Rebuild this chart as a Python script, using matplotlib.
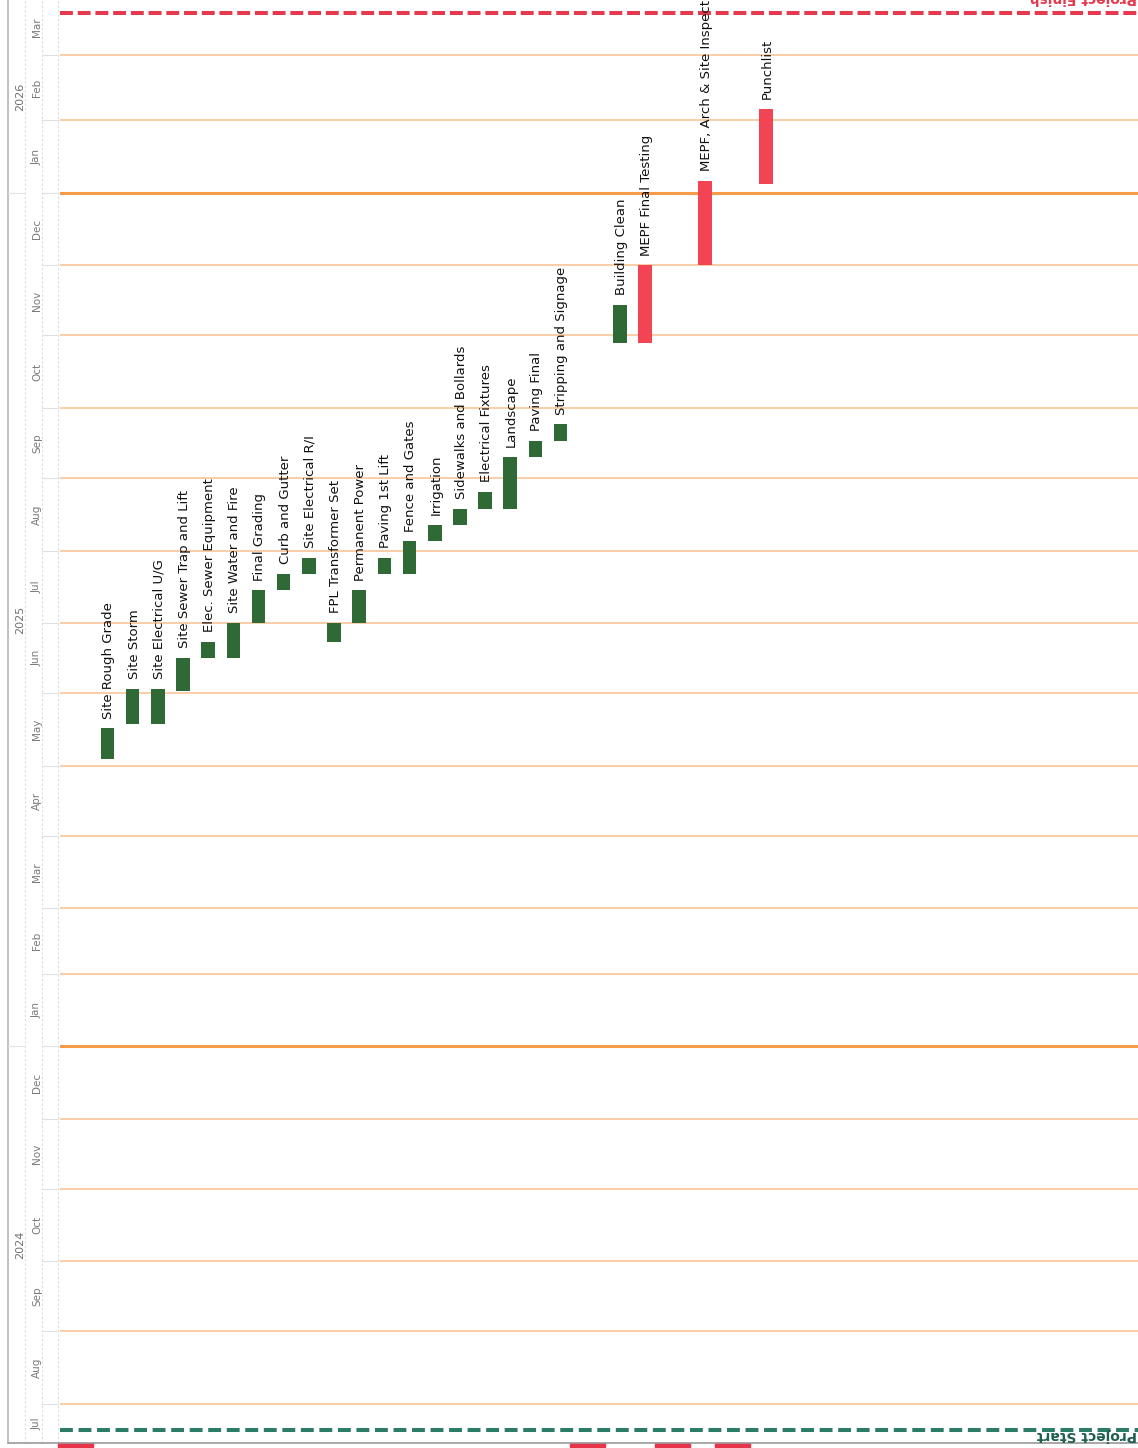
import datetime as dt
import matplotlib
matplotlib.use('Agg')
import matplotlib.pyplot as plt
import matplotlib.dates as mdates
from matplotlib.patches import Rectangle

# tasks (bottom = start, top = finish)
tasks = ['Site Rough Grade', 'Site Storm', 'Site Electrical U/G', 'Site Sewer Trap and Lift',
         'Elec. Sewer Equipment', 'Site Water and Fire', 'Final Grading', 'Curb and Gutter',
         'Site Electrical R/I', 'FPL Transformer Set', 'Permanent Power', 'Paving 1st Lift',
         'Fence and Gates', 'Irrigation', 'Sidewalks and Bollards', 'Electrical Fixtures',
         'Landscape', 'Paving Final', 'Stripping and Signage', 'Building Clean',
         'MEPF Final Testing', 'MEPF, Arch & Site Inspections', 'Punchlist']
starts = ['2025-05-04', '2025-05-19', '2025-05-19', '2025-06-02', '2025-06-16', '2025-06-16',
          '2025-07-01', '2025-07-15', '2025-07-22', '2025-06-23', '2025-07-01', '2025-07-22',
          '2025-07-22', '2025-08-05', '2025-08-12', '2025-08-19', '2025-08-19', '2025-09-10',
          '2025-09-17', '2025-10-29', '2025-10-29', '2025-12-01', '2026-01-05']
ends = ['2025-05-17', '2025-06-03', '2025-06-03', '2025-06-16', '2025-06-23', '2025-07-01',
        '2025-07-15', '2025-07-22', '2025-07-29', '2025-07-01', '2025-07-15', '2025-07-29',
        '2025-08-05', '2025-08-12', '2025-08-19', '2025-08-26', '2025-09-10', '2025-09-17',
        '2025-09-24', '2025-11-14', '2025-12-01', '2026-01-06', '2026-02-06']
status = ['site'] * 19 + ['site', 'close', 'close', 'close']
project_start = '2024-07-21'
project_finish = '2026-03-19'
year_labels = ['2024', '2025', '2026']

# column of each task on the sheet
lane = list(range(19)) + [20.36, 21.35, 23.74, 26.16]

GREEN = '#2f6a36'
RED = '#f24452'
colors = {'site': GREEN, 'close': RED}

W, H = 1138, 1448
fig = plt.figure(figsize=(W / 100, H / 100), dpi=100)
fig.patch.set_facecolor('white')


def d(s):
    return mdates.date2num(dt.datetime.strptime(s, '%Y-%m-%d'))


# pixel layout of the scanned sheet
left_px, bottom_px = 60, 5
ax = fig.add_axes([left_px / W, bottom_px / H, (W - left_px) / W, (H - bottom_px) / H])
ymin = d('2024-07-15') + 0.3
ymax = d('2026-03-24') + 0.5
ax.set_ylim(ymin, ymax)
lane_px = 25.17
x0 = 107.5
ax.set_xlim(-(x0 - left_px) / lane_px, (W - x0) / lane_px)
ax.axis('off')

# month grid
months = []
m = dt.datetime(2024, 7, 1)
while m <= dt.datetime(2026, 4, 1):
    months.append(m)
    m = dt.datetime(m.year + (m.month // 12), m.month % 12 + 1, 1)

for mo in months:
    y = mdates.date2num(mo)
    if y < ymin or y > ymax:
        continue
    if mo.month == 1:
        ax.axhline(y, color='#f59a48', lw=2.2, zorder=1)
    else:
        ax.axhline(y, color='#f9c597', lw=1.2, zorder=1)

# bars
for i, t in enumerate(tasks):
    s, e = d(starts[i]), d(ends[i])
    ax.bar(lane[i], e - s, bottom=s, width=0.54, color=colors[status[i]], zorder=3)
    ax.annotate(t, (lane[i], e), xytext=(1, 7), textcoords='offset points',
                rotation=90, ha='center', va='bottom', fontsize=9.5, color='#111111',
                annotation_clip=False, zorder=4)

# project start / finish
ax.axhline(d(project_start), color='#2b7d68', lw=2.9, linestyle=(0, (3.2, 1.4)), zorder=2)
ax.axhline(d(project_finish), color='#e5394f', lw=2.9, linestyle=(0, (3.2, 1.2)), zorder=2)
fig.text(0.999, bottom_px / H + 0.001, 'Project Start', rotation=180, ha='right', va='bottom',
         color='#1f5f4f', fontsize=10, fontweight='bold')
fig.text(0.999, 1 - 5 / H, 'Project Finish', rotation=180, ha='right', va='bottom',
         color='#e5394f', fontsize=10, fontweight='bold')

# timescale on the left
tax = fig.add_axes([0, bottom_px / H, left_px / W, (H - bottom_px) / H])
tax.set_ylim(ymin, ymax)
tax.set_xlim(0, left_px)
tax.axis('off')
tax.axvline(8, color='#b5b5b5', lw=1.2)
for xv in (25, 42, 58):
    tax.axvline(xv, color='#dcdcdc', lw=0.8, linestyle=(0, (2, 2)))
for k, mo in enumerate(months[:-1]):
    lo = max(mdates.date2num(mo), ymin)
    hi = min(mdates.date2num(months[k + 1]), ymax)
    if hi <= lo:
        continue
    tax.plot([42, 58], [lo, lo], color='#e0e0e0', lw=0.8)
    tax.text(37, (lo + hi) / 2, mo.strftime('%b'), rotation=90, ha='center', va='center',
             fontsize=7.5, color='#7a7a7a')
for yr in year_labels:
    lo = max(d(yr + '-01-01'), ymin)
    hi = min(d(str(int(yr) + 1) + '-01-01'), ymax)
    tax.text(20, (lo + hi) / 2, yr, rotation=90, ha='center', va='center',
             fontsize=8, color='#6f6f6f')
    if lo > ymin:
        tax.plot([8, 25], [lo, lo], color='#e3e3e3', lw=0.8)

# bottom edge of the sheet and the cut-off header blocks below it
fig.add_artist(plt.Line2D([8 / W, 1], [bottom_px / H, bottom_px / H], color='#9a9a9a', lw=1.2))
for xa, xb in [(58, 93), (570, 605), (655, 690), (715, 750)]:
    fig.add_artist(Rectangle((xa / W, 0), (xb - xa) / W, bottom_px / H,
                             transform=fig.transFigure, color='#e8344a'))

fig.savefig('out.png', dpi=100)
